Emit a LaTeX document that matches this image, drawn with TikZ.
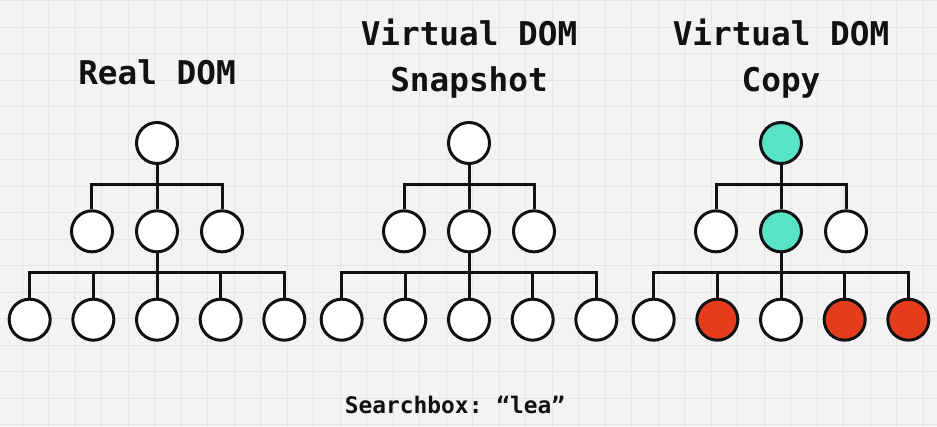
\documentclass[tikz,border=0pt]{standalone}
\usepackage{fontspec}
\setmonofont{DejaVu Sans Mono}
\usetikzlibrary{positioning}

\definecolor{paper}{HTML}{F3F3F3}
\definecolor{paperline}{HTML}{E5E5E5}
\definecolor{touched}{HTML}{58E2C6}
\definecolor{changed}{HTML}{E63C1E}
\definecolor{ink}{HTML}{111111}

\tikzset{
  dom/.style = {circle, draw=ink, line width=0.09cm, fill=white,
                minimum size=1.23cm, inner sep=0pt},
  title/.style = {text=ink, align=center,
                  font=\ttfamily\bfseries\fontsize{27.9}{40}\selectfont},
  caption/.style = {text=ink, font=\ttfamily\bfseries\fontsize{19.5}{24}\selectfont}
}

\begin{document}
\begin{tikzpicture}[x=0.03cm, y=0.03cm, level distance=2.65cm,
    level 1/.style = {sibling distance=1.95cm},
    level 2/.style = {sibling distance=1.91cm},
    every child node/.style = {dom},
    edge from parent/.style = {draw=ink, line width=0.09cm},
    edge from parent path = {(\tikzparentnode.south) -- ++(0,-19) -| (\tikzchildnode.north)}]
  % background paper with grid
  \useasboundingbox (0,0) rectangle (937,-427);
  \fill[paper] (0,0) rectangle (937,-427);
  \begin{scope}[shift={(22,-27)}]
    \draw[paperline, line width=0.6pt, step=0.795cm] (-30,30) grid (930,-410);
  \end{scope}

  % titles (base = baseline of the last line)
  \node[title, anchor=base] (realtitle) at (157,-85) {Real DOM};
  \node[title, anchor=base] (snaptitle) at (469,-92) {Virtual DOM\\Snapshot};
  \node[title, anchor=base] (copytitle) at (781,-92) {Virtual DOM\\Copy};

  % real DOM
  \node[dom] (real) at (157,-143) {}
    child { node {} }
    child { node {}
      child { node {} }
      child { node {} }
      child { node {} }
      child { node {} }
      child { node {} } }
    child { node {} };

  % snapshot
  \node[dom] (snap) at (469,-143) {}
    child { node {} }
    child { node {}
      child { node {} }
      child { node {} }
      child { node {} }
      child { node {} }
      child { node {} } }
    child { node {} };

  % copy, with the changed nodes
  \node[dom, fill=touched] (copy) at (781,-143) {}
    child { node {} }
    child { node [fill=touched] {}
      child { node {} }
      child { node [fill=changed] {} }
      child { node {} }
      child { node [fill=changed] {} }
      child { node [fill=changed] {} } }
    child { node {} };

  \node[caption, anchor=base] (search) at (455,-413) {Searchbox: “lea”};
\end{tikzpicture}
\end{document}
